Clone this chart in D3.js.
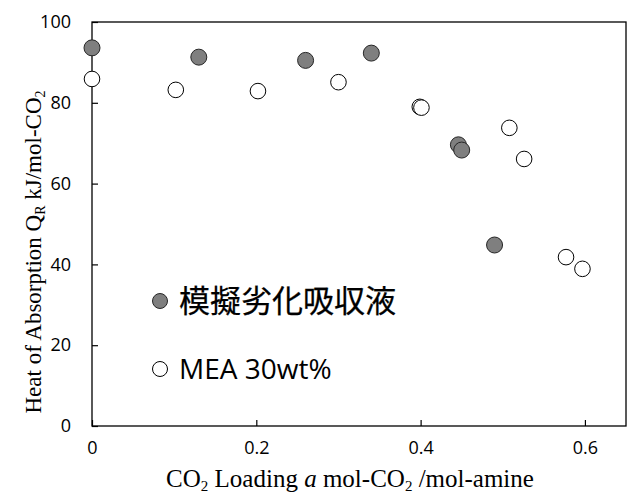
<!DOCTYPE html>
<html>
<head>
<meta charset="utf-8">
<script src="https://cdn.jsdelivr.net/npm/d3@7"></script>
<style>
  body { margin: 0; background: #fff; }
  svg { display: block; }
  .tick text { font-family: "Open Sans", "Noto Sans", sans-serif; font-size: 18px; fill: #000; }
  .title { font-family: "Liberation Serif", "DejaVu Serif", serif; fill: #000; }
</style>
</head>
<body>
<div id="chart"></div>
<script>
// simulated degraded absorbent
const degradedX = [0, 0.13, 0.26, 0.34, 0.446, 0.45, 0.49];
const degradedY = [93.6, 91.3, 90.5, 92.3, 69.6, 68.3, 44.8];
// MEA 30wt%
const meaX = [0, 0.102, 0.202, 0.30, 0.399, 0.401, 0.508, 0.526, 0.577, 0.597];
const meaY = [85.9, 83.2, 82.9, 85.1, 79.0, 78.8, 73.8, 66.1, 41.8, 38.9];
const xTicks = [0, 0.2, 0.4, 0.6];
const yTicks = [0, 20, 40, 60, 80, 100];
const seriesNames = ['模擬劣化吸収液', 'MEA 30wt%'];

const W = 632, H = 494;
const margin = {top: 22, right: 6, bottom: 68, left: 92};

const svg = d3.select('#chart').append('svg')
  .attr('width', W).attr('height', H);

const x = d3.scaleLinear().domain([0, 0.65]).range([margin.left, W - margin.right]);
const y = d3.scaleLinear().domain([0, 100]).range([H - margin.bottom, margin.top]);

// frame
svg.append('rect')
  .attr('x', x(0)).attr('y', y(100))
  .attr('width', x(0.65) - x(0)).attr('height', y(0) - y(100))
  .attr('fill', 'none').attr('stroke', '#000').attr('stroke-width', 1.3);

const xAxis = d3.axisBottom(x)
  .tickValues(xTicks)
  .tickSize(-6)
  .tickPadding(15)
  .tickFormat(d => d === 0 ? '0' : d3.format('.1f')(d));
svg.append('g')
  .attr('transform', `translate(0,${y(0)})`)
  .call(xAxis)
  .call(g => g.select('.domain').remove())
  .call(g => g.selectAll('.tick line').attr('stroke', '#000').attr('stroke-width', 1.2));

const yAxis = d3.axisLeft(y)
  .tickValues(yTicks)
  .tickSize(-6)
  .tickPadding(21);
svg.append('g')
  .attr('transform', `translate(${x(0)},0)`)
  .call(yAxis)
  .call(g => g.select('.domain').remove())
  .call(g => g.selectAll('.tick line').attr('stroke', '#000').attr('stroke-width', 1.2));

// points
const degraded = degradedX.map((v, i) => ({x: v, y: degradedY[i]}));
const mea = meaX.map((v, i) => ({x: v, y: meaY[i]}));

svg.append('g').selectAll('circle')
  .data(mea).enter().append('circle')
  .attr('cx', d => x(d.x)).attr('cy', d => y(d.y)).attr('r', 7.8)
  .attr('fill', '#fff').attr('stroke', '#000').attr('stroke-width', 1);

svg.append('g').selectAll('circle')
  .data(degraded).enter().append('circle')
  .attr('cx', d => x(d.x)).attr('cy', d => y(d.y)).attr('r', 8)
  .attr('fill', '#7f7f7f').attr('stroke', '#262626').attr('stroke-width', 1);

// legend
const legend = svg.append('g');
const legendItems = [
  {name: seriesNames[0], fill: '#7f7f7f', stroke: '#262626', cy: 301, size: 31,
   font: '"Noto Sans CJK JP", sans-serif', weight: 0.25},
  {name: seriesNames[1], fill: '#fff', stroke: '#000', cy: 369, size: 28,
   font: '"Open Sans", "Noto Sans", sans-serif', weight: 0}
];
legendItems.forEach(it => {
  legend.append('circle')
    .attr('cx', 160).attr('cy', it.cy).attr('r', 7.5)
    .attr('fill', it.fill).attr('stroke', it.stroke).attr('stroke-width', 1);
  legend.append('text')
    .attr('x', 179).attr('y', it.cy).attr('dy', '0.36em')
    .style('font-family', it.font).style('font-size', it.size + 'px')
    .attr('stroke', '#000').attr('stroke-width', it.weight)
    .text(it.name);
});

// axis titles
const xt = svg.append('text').attr('class', 'title')
  .style('font-size', '25px')
  .attr('x', 350).attr('y', 487)
  .attr('text-anchor', 'middle');
xt.append('tspan').text('CO');
xt.append('tspan').attr('dy', 4).style('font-size', '15px').text('2');
xt.append('tspan').attr('dy', -4).text(' Loading ');
xt.append('tspan').style('font-style', 'italic').text('a');
xt.append('tspan').text(' mol-CO');
xt.append('tspan').attr('dy', 4).style('font-size', '15px').text('2');
xt.append('tspan').attr('dy', -4).text(' /mol-amine');

const yt = svg.append('text').attr('class', 'title')
  .style('font-size', '23px')
  .attr('transform', `translate(41,252) rotate(-90)`)
  .attr('text-anchor', 'middle');
yt.append('tspan').text('Heat of Absorption Q');
yt.append('tspan').attr('dy', 4).style('font-size', '14px').text('R');
yt.append('tspan').attr('dy', -4).text(' kJ/mol-CO');
yt.append('tspan').attr('dy', 4).style('font-size', '14px').text('2');
</script>
</body>
</html>
